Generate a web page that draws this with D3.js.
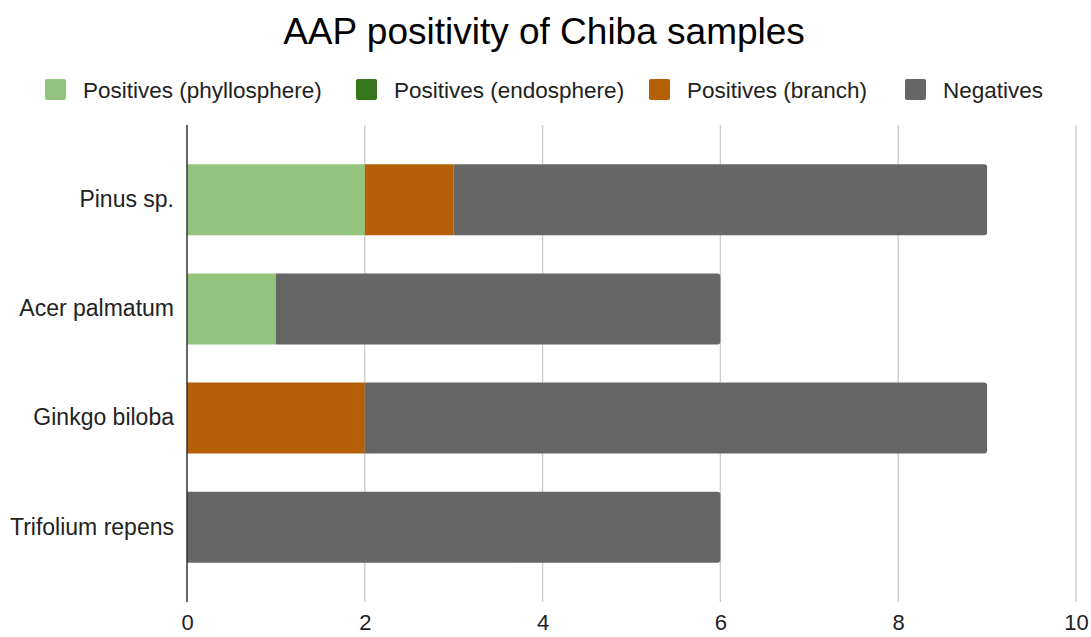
<!DOCTYPE html>
<html>
<head>
<meta charset="utf-8">
<script src="https://cdn.jsdelivr.net/npm/d3@7"></script>
<style>
  html, body { margin: 0; padding: 0; background: #fff; }
  svg { display: block; font-family: "Liberation Sans", Arial, sans-serif; }
</style>
</head>
<body>
<svg id="chart" width="1091" height="637"></svg>
<script>
// Sample counts per species, split by result type
const species = ["Pinus sp.", "Acer palmatum", "Ginkgo biloba", "Trifolium repens"];
const seriesNames = ["Positives (phyllosphere)", "Positives (endosphere)", "Positives (branch)", "Negatives"];
const phyllosphere = [2, 1, 0, 0];
const endosphere = [0, 0, 0, 0];
const branch = [1, 0, 2, 0];
const negatives = [6, 5, 7, 6];
const xTicks = [0, 2, 4, 6, 8, 10];
const colors = ["#93c47d", "#38761d", "#b45f06", "#666666"];

const rows = species.map((s, i) => ({
  species: s,
  "Positives (phyllosphere)": phyllosphere[i],
  "Positives (endosphere)": endosphere[i],
  "Positives (branch)": branch[i],
  "Negatives": negatives[i]
}));

const svg = d3.select("#chart");
const plot = { left: 187, right: 1076, top: 125, bottom: 602 };

const x = d3.scaleLinear().domain([0, 10]).range([plot.left, plot.right]);
const y = d3.scaleBand().domain(species).range([plot.top, plot.bottom])
  .paddingInner(0.35).paddingOuter(0.36);
const color = d3.scaleOrdinal().domain(seriesNames).range(colors);

// Title
svg.append("text")
  .attr("x", 544).attr("y", 44)
  .attr("text-anchor", "middle")
  .attr("font-size", 37)
  .attr("fill", "#000")
  .text("AAP positivity of Chiba samples");

// Legend
const legendPos = [45, 356, 649, 905];
const legend = svg.append("g");
seriesNames.forEach((name, i) => {
  const g = legend.append("g").attr("transform", `translate(${legendPos[i]},79)`);
  g.append("rect").attr("width", 21).attr("height", 21).attr("rx", 2).attr("fill", colors[i]);
  g.append("text").attr("x", 38).attr("y", 19).attr("font-size", 22.5).attr("fill", "#222").text(name);
});

// Vertical gridlines
svg.append("g")
  .selectAll("line")
  .data(xTicks.filter(d => d !== 0))
  .join("line")
  .attr("x1", d => x(d)).attr("x2", d => x(d))
  .attr("y1", plot.top).attr("y2", plot.bottom)
  .attr("stroke", "#cccccc").attr("stroke-width", 1.3);

// Stacked bars
const stack = d3.stack().keys(seriesNames);
const layers = stack(rows);
const lastKey = seriesNames[seriesNames.length - 1];

function segmentPath(x0, x1, y0, h, roundRight) {
  const r = roundRight ? Math.min(3, (x1 - x0) / 2) : 0;
  return `M${x0},${y0}H${x1 - r}` +
    (r ? `Q${x1},${y0} ${x1},${y0 + r}` : "") +
    `V${y0 + h - r}` +
    (r ? `Q${x1},${y0 + h} ${x1 - r},${y0 + h}` : "") +
    `H${x0}Z`;
}

svg.append("g")
  .selectAll("g")
  .data(layers)
  .join("g")
  .attr("fill", d => color(d.key))
  .selectAll("path")
  .data(d => d.map(v => ({ v, key: d.key })).filter(o => o.v[1] > o.v[0]))
  .join("path")
  .attr("d", o => segmentPath(x(o.v[0]), x(o.v[1]), y(o.v.data.species), y.bandwidth(), o.key === lastKey));

// Baseline axis line
svg.append("line")
  .attr("x1", x(0)).attr("x2", x(0))
  .attr("y1", plot.top).attr("y2", plot.bottom)
  .attr("stroke", "#333").attr("stroke-width", 1.5);

// Category axis labels
const yAxis = svg.append("g")
  .attr("transform", `translate(${plot.left - 13},0)`)
  .call(d3.axisLeft(y).tickSize(0).tickPadding(0));
yAxis.select(".domain").remove();
yAxis.selectAll("text")
  .attr("font-size", 23).attr("fill", "#222")
  .attr("font-family", "'Liberation Sans', Arial, sans-serif");

// Value axis labels
const xAxis = svg.append("g")
  .attr("transform", `translate(0,${plot.bottom})`)
  .call(d3.axisBottom(x).tickValues(xTicks).tickSize(0).tickPadding(12).tickFormat(d3.format("d")));
xAxis.select(".domain").remove();
xAxis.selectAll("text")
  .attr("font-size", 22).attr("fill", "#222")
  .attr("font-family", "'Liberation Sans', Arial, sans-serif");
</script>
</body>
</html>
